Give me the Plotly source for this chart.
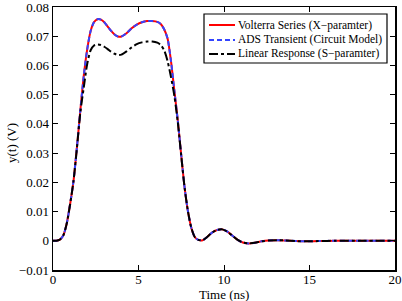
import plotly.graph_objects as go

# Time axis (ns)
time_ns = [0, 0.2, 0.4, 0.6, 0.8, 1.0, 1.2, 1.4, 1.6, 1.8, 2.0, 2.2, 2.4, 2.6, 2.8,
           3.0, 3.2, 3.4, 3.6, 3.8, 4.0, 4.3, 4.6, 4.9, 5.2, 5.5, 5.8, 6.1, 6.3,
           6.5, 6.7, 6.9, 7.1, 7.3, 7.5, 7.7, 7.9, 8.1, 8.3, 8.5, 8.75, 9.0, 9.3,
           9.6, 9.9, 10.2, 10.5, 10.8, 11.1, 11.45, 11.8, 12.2, 12.6, 13.1, 13.6,
           14.2, 14.8, 15.5, 16.5, 18, 20]

volterra = [0, 0.0, 0.0004, 0.0018, 0.0058, 0.0125, 0.0205, 0.0320, 0.0447, 0.0565,
            0.0655, 0.0718, 0.0748, 0.0758, 0.0757, 0.0748, 0.0733, 0.0718, 0.0706,
            0.0699, 0.0699, 0.0710, 0.0727, 0.0740, 0.0748, 0.0752, 0.0752, 0.0749,
            0.0742, 0.0724, 0.0692, 0.0615, 0.0512, 0.0410, 0.0292, 0.0180, 0.0098,
            0.0042, 0.0012, 0.0003, 0.0002, 0.0012, 0.0028, 0.0037, 0.0039, 0.0031,
            0.0017, 0.0003, -0.0006, -0.0009, -0.0007, -0.0002, 0.0001, 0.0002,
            0.0001, -0.0001, -0.0002, -0.0001, 0, 0, 0]

ads = list(volterra)

linear = [0, 0.0, 0.0004, 0.0018, 0.0058, 0.0125, 0.0205, 0.0318, 0.0440, 0.0525,
          0.0605, 0.0652, 0.0668, 0.0672, 0.0670, 0.0664, 0.0656, 0.0647, 0.0640,
          0.0636, 0.0637, 0.0648, 0.0662, 0.0673, 0.0679, 0.0682, 0.0682, 0.0678,
          0.0670, 0.0652, 0.0615, 0.0560, 0.0495, 0.0405, 0.0290, 0.0180, 0.0098,
          0.0042, 0.0012, 0.0003, 0.0002, 0.0012, 0.0028, 0.0037, 0.0039, 0.0031,
          0.0017, 0.0003, -0.0006, -0.0009, -0.0007, -0.0002, 0.0001, 0.0002,
          0.0001, -0.0001, -0.0002, -0.0001, 0, 0, 0]

series_names = ["Volterra Series (X\u2212paramter)",
                "ADS Transient (Circuit Model)",
                "Linear Response (S\u2212paramter)"]
series_colors = ["#ff0000", "#3344ff", "#000000"]
series_dash = ["solid", "5px,3px", "dashdot"]

x_ticks = [0, 5, 10, 15, 20]
y_ticks = [-0.01, 0, 0.01, 0.02, 0.03, 0.04, 0.05, 0.06, 0.07, 0.08]
y_tick_labels = ["\u22120.01", "0", "0.01", "0.02", "0.03", "0.04", "0.05", "0.06", "0.07", "0.08"]

FONT = "Liberation Serif, Times New Roman, serif"
W, H = 402, 301
ML, MR, MT, MB = 53, 7, 7, 31
PW, PH = W - ML - MR, H - MT - MB


def px_to_paper(px, py):
    return (px - ML) / PW, (H - MB - py) / PH


fig = go.Figure()
for ys, name, col, dash in zip([volterra, ads, linear], series_names, series_colors, series_dash):
    fig.add_trace(go.Scatter(x=time_ns, y=ys, mode="lines", name=name, showlegend=False,
                             line=dict(color=col, width=2, dash=dash, shape="spline", smoothing=0.7)))

axis_common = dict(showline=True, linecolor="black", linewidth=1.5, mirror="ticks",
                   ticks="inside", ticklen=5, tickcolor="black", tickwidth=1,
                   showgrid=False, zeroline=False, automargin=False,
                   ticklabeloverflow="allow",
                   tickfont=dict(family=FONT, size=13, color="black"))

fig.update_xaxes(range=[0, 20], tickvals=x_ticks, ticklabelstandoff=-3, **axis_common)
fig.update_yaxes(range=[-0.01, 0.08], tickvals=y_ticks, ticktext=y_tick_labels, **axis_common)

annotations = []
shapes = []

# axis titles
tx, ty = px_to_paper(224, 294)
annotations.append(dict(text="Time (ns)", x=tx, y=ty, xref="paper", yref="paper",
                        xanchor="center", yanchor="middle", showarrow=False,
                        font=dict(family=FONT, size=13, color="black")))
lx, ly = px_to_paper(11, 143)
annotations.append(dict(text="y(t) (V)", x=lx, y=ly, xref="paper", yref="paper",
                        xanchor="center", yanchor="middle", showarrow=False, textangle=-90,
                        font=dict(family=FONT, size=13, color="black")))

# legend box
bx0, by0 = px_to_paper(204, 14)
bx1, by1 = px_to_paper(387, 63)
shapes.append(dict(type="rect", xref="paper", yref="paper", x0=bx0, y0=by1, x1=bx1, y1=by0,
                   line=dict(color="black", width=1.2), fillcolor="white", layer="above"))
row_y = [25, 40, 54]
for ry, name, col, dash in zip(row_y, series_names, series_colors, series_dash):
    sx0, sy = px_to_paper(209, ry)
    sx1, _ = px_to_paper(235, ry)
    shapes.append(dict(type="line", xref="paper", yref="paper", x0=sx0, y0=sy, x1=sx1, y1=sy,
                       line=dict(color=col, width=2, dash=dash), layer="above"))
    tx0, _ = px_to_paper(236, ry)
    annotations.append(dict(text=name, x=tx0, y=sy, xref="paper", yref="paper",
                            xanchor="left", yanchor="middle", showarrow=False,
                            font=dict(family=FONT, size=11.5, color="black")))

fig.update_layout(
    width=W, height=H, autosize=False,
    margin=dict(l=ML, r=MR, t=MT, b=MB),
    plot_bgcolor="white", paper_bgcolor="white",
    font=dict(family=FONT, color="black"),
    showlegend=False,
    annotations=annotations,
    shapes=shapes,
)

fig.write_html("out.html", config={"displayModeBar": False, "staticPlot": True},
               post_script="document.body.style.margin='0';document.body.style.padding='0';")
